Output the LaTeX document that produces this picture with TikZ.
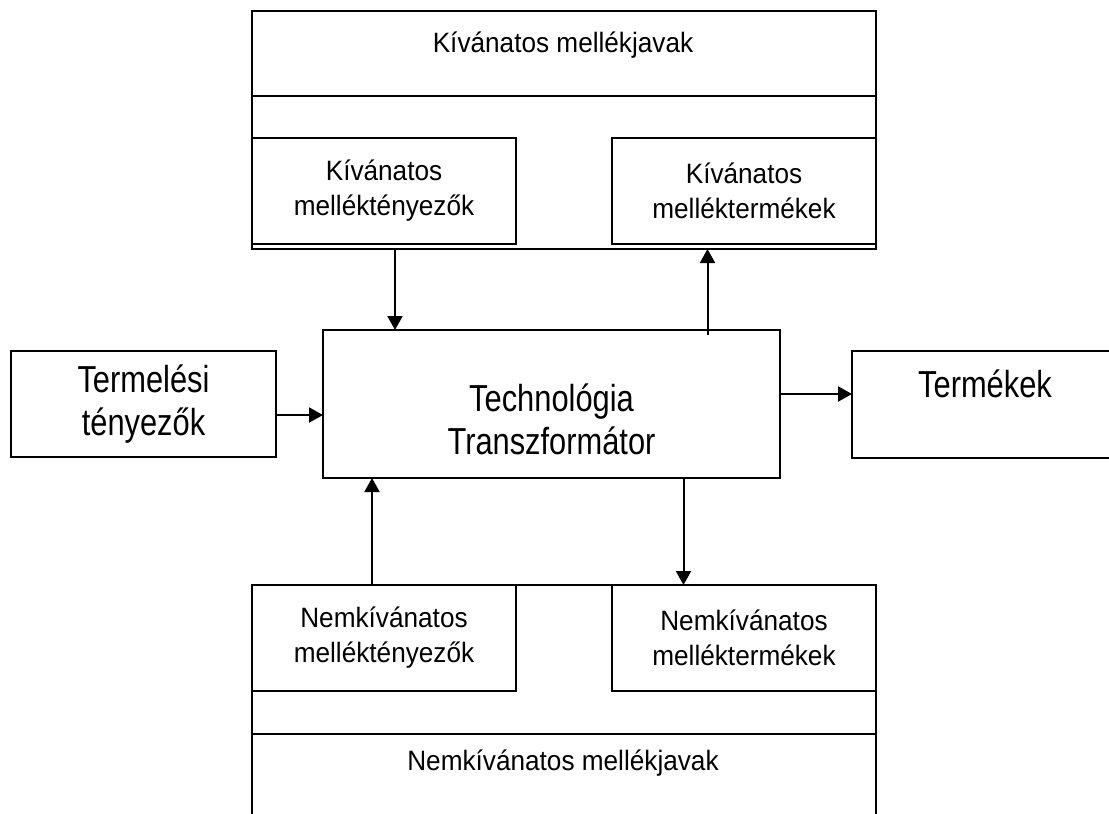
\documentclass[tikz,border=0pt]{standalone}
\usepackage{fontspec}
\setmainfont{Liberation Sans}
\newfontfamily\bigfont[FakeStretch=0.82]{Liberation Sans}
\newfontfamily\smallfont[FakeStretch=0.935]{Liberation Sans}
\usetikzlibrary{calc}
\usetikzlibrary{arrows.meta}
\usetikzlibrary{positioning}

\begin{document}
\begin{tikzpicture}[x=0.5pt,y=-0.5pt]
% 1 unit = 1 px of the original picture
    \def\LW{1pt}
    \def\XLEFT{252}
    \def\XRIGHT{876}
    \def\XMID{563}

    \tikzset{
      box/.style={draw,line width=\LW,inner sep=0pt,outer sep=0pt,align=center},
      small/.style={font=\smallfont\fontsize{14}{17.5}\selectfont,align=center},
      big/.style={font=\bigfont\fontsize{18.8}{21.5}\selectfont,align=center},
      arr/.style={-{Triangle[width=7.5pt,length=7pt]},line width=\LW},
    }

    \useasboundingbox (0,0) rectangle (1109,814);

    % TOP BLOCK (KIVANATOS)
    \draw[line width=\LW] (\XLEFT,11) coordinate (TA) rectangle (\XRIGHT,249) coordinate (TB);
    \draw[line width=\LW] (\XLEFT,96) -- (\XRIGHT,96);
    \node[small] (kjavak) at (\XMID,45) {Kívánatos mellékjavak};
    \node[box,small,minimum width=132pt,minimum height=53pt,anchor=north west]
        (ktenyezo) at (\XLEFT,138) {Kívánatos\\melléktényezők};
    \node[box,small,minimum width=132pt,minimum height=53pt,anchor=north east]
        (ktermek) at (\XRIGHT,138) {Kívánatos\\melléktermékek};

    % CENTRE
    \node[box,minimum width=228.5pt,minimum height=74pt] (tech) at (551.5,404) {};
    \node[big] (techtxt) at (551.5,419) {Technológia\\Transzformátor};

    % LEFT AND RIGHT
    \node[box,big,minimum width=132.5pt,minimum height=53pt] (termeles) at (143.5,404)
        {Termelési\\tényezők};
    \node[inner sep=0pt,outer sep=0pt,minimum width=128.5pt,minimum height=53.5pt,anchor=north west]
        (termekek) at (852,351) {};
    \draw[line width=\LW] (termekek.north east) -| (termekek.south west) -- (termekek.south east);
    \node[big] (termekektxt) at (985,384) {Termékek};

    % BOTTOM BLOCK (NEMKIVANATOS)
    \draw[line width=\LW] (\XLEFT,814) |- (\XRIGHT,585) coordinate (BA) -- (\XRIGHT,814);
    \draw[line width=\LW] (\XLEFT,733.5) -- (\XRIGHT,733.5);
    \node[box,small,minimum width=132pt,minimum height=53pt,anchor=north west]
        (ntenyezo) at (\XLEFT,585) {Nemkívánatos\\melléktényezők};
    \node[box,small,minimum width=132pt,minimum height=53pt,anchor=north east]
        (ntermek) at (\XRIGHT,585) {Nemkívánatos\\melléktermékek};
    \node[small] (njavak) at (\XMID,763) {Nemkívánatos mellékjavak};

    % ARROWS
    \coordinate (d1) at (395,249);
    \draw[arr] (d1) -- (d1 |- tech.north);
    \coordinate (u1) at (707.5,335);
    \draw[arr] (u1) -- (u1 |- TB);
    \coordinate (r1) at ($(termeles.east)+(0,11)$);
    \draw[arr] (r1) -- (r1 -| tech.west);
    \coordinate (r2) at ($(tech.east)+(0,-10)$);
    \draw[arr] (r2) -- (r2 -| termekek.west);
    \coordinate (u2) at (372,585);
    \draw[arr] (u2) -- (u2 |- tech.south);
    \coordinate (d2) at (683.5,478);
    \draw[arr] (d2) -- (d2 |- BA);

\end{tikzpicture}
\end{document}
